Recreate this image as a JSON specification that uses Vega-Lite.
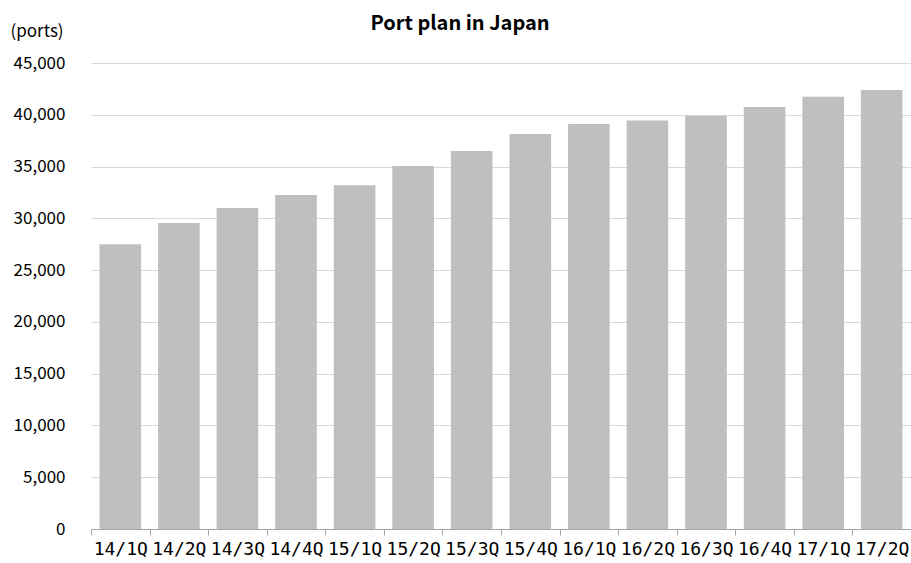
{
  "$schema": "https://vega.github.io/schema/vega-lite/v6.json",
  "autosize": {"type": "none"},
  "padding": {"left": 91, "top": 63, "right": 0, "bottom": 34},
  "width": 820,
  "height": 466,
  "background": "white",
  "title": {
    "text": "Port plan in Japan",
    "font": "Noto Sans CJK JP",
    "fontSize": 20,
    "fontWeight": "bold",
    "color": "#000000",
    "anchor": "middle",
    "dx": -41,
    "offset": -12
  },
  "data": {
    "values": [
      {"q": "14/1Q", "ports": 27500},
      {"q": "14/2Q", "ports": 29550},
      {"q": "14/3Q", "ports": 31000},
      {"q": "14/4Q", "ports": 32250},
      {"q": "15/1Q", "ports": 33200},
      {"q": "15/2Q", "ports": 35050},
      {"q": "15/3Q", "ports": 36500},
      {"q": "15/4Q", "ports": 38150},
      {"q": "16/1Q", "ports": 39100},
      {"q": "16/2Q", "ports": 39450},
      {"q": "16/3Q", "ports": 39900},
      {"q": "16/4Q", "ports": 40750},
      {"q": "17/1Q", "ports": 41750},
      {"q": "17/2Q", "ports": 42400}
    ]
  },
  "mark": {"type": "bar", "color": "#bfbfbf", "width": {"band": 0.71}},
  "encoding": {
    "x": {
      "field": "q",
      "type": "nominal",
      "sort": null,
      "scale": {"paddingInner": 0, "paddingOuter": 0},
      "axis": {
        "title": null,
        "labelAngle": 0,
        "tickBand": "extent",
        "ticks": true,
        "tickSize": 6,
        "tickColor": "#a6a6a6",
        "domainColor": "#a6a6a6",
        "labelFont": "DejaVu Sans Mono",
        "labelFontSize": 18,
        "labelColor": "#000000",
        "labelPadding": 5,
        "labelOverlap": false,
        "grid": false
      }
    },
    "y": {
      "field": "ports",
      "type": "quantitative",
      "scale": {"domain": [0, 45000]},
      "axis": {
        "values": [0, 5000, 10000, 15000, 20000, 25000, 30000, 35000, 40000, 45000],
        "format": ",d",
        "domain": false,
        "ticks": false,
        "grid": true,
        "gridColor": "#d9d9d9",
        "labelFont": "Noto Sans CJK JP",
        "labelFontSize": 17,
        "labelColor": "#000000",
        "labelPadding": 26,
        "title": "(ports)",
        "titleAngle": 0,
        "titleAlign": "left",
        "titleBaseline": "alphabetic",
        "titleX": -81,
        "titleY": -27,
        "titleFont": "Noto Sans CJK JP",
        "titleFontSize": 17,
        "titleFontWeight": "normal",
        "titleColor": "#000000"
      }
    }
  },
  "config": {"view": {"stroke": null}}
}
